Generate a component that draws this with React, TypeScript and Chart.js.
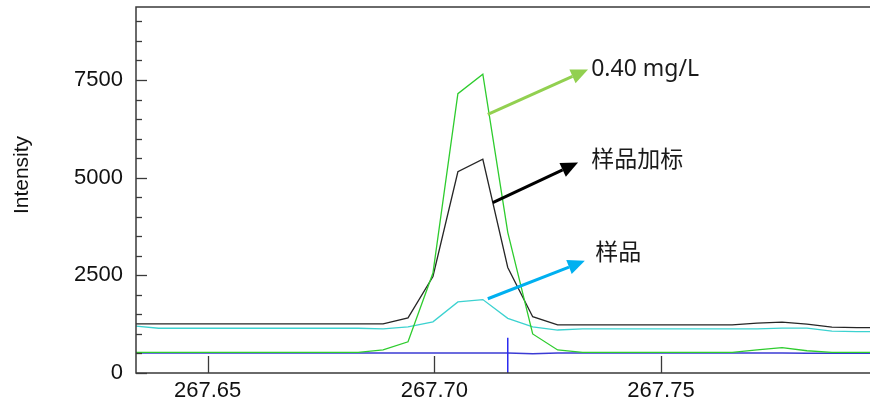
import React, { useEffect, useRef } from "react";
import { Chart, registerables } from "chart.js";

Chart.register(...registerables);

// Wavelength grid (nm)
const wavelengths = [
  267.6337, 267.6392, 267.6447, 267.6502, 267.6557, 267.6612, 267.6667, 267.6722,
  267.6777, 267.6832, 267.6887, 267.6942, 267.6997, 267.7052, 267.7107, 267.7162,
  267.7217, 267.7272, 267.7327, 267.7382, 267.7437, 267.7492, 267.7547, 267.7602,
  267.7657, 267.7712, 267.7767, 267.7822, 267.7877, 267.7932, 267.7987,
];

// 样品加标 (black)
const spiked = [
  1256, 1256, 1256, 1256, 1256, 1256, 1256, 1256, 1256, 1256, 1256,
  1410, 2470, 5150, 5470, 2700, 1440, 1230,
  1230, 1230, 1230, 1230, 1230, 1230, 1230,
  1275, 1300, 1250, 1175, 1160, 1160,
];

// 0.40 mg/L standard (green)
const standard = [
  530, 530, 530, 530, 530, 530, 530, 530, 530, 530,
  590, 800, 2560, 7150, 7650, 3600, 1000, 590,
  530, 530, 530, 530, 530, 530, 530,
  590, 650, 570, 530, 530, 530,
];

// 样品 (cyan)
const sample = [
  1205, 1145, 1145, 1145, 1145, 1145, 1145, 1145, 1145, 1145,
  1130, 1180, 1310, 1820, 1880, 1400, 1180, 1100,
  1130, 1130, 1130, 1130, 1130, 1130, 1130, 1130,
  1150, 1150, 1070, 1060, 1060,
];

// blank (blue)
const blank = [
  515, 515, 515, 515, 515, 515, 515, 515, 515, 515, 515, 515, 515, 515, 515, 515,
  490,
  515, 515, 515, 515, 515, 515, 515, 515, 515, 515,
  505, 505, 505, 505,
];

// peak position marker
const markerX = [267.7162, 267.7162];
const markerY = [0, 900];

const xTicks = [267.65, 267.7, 267.75];
const yMajorTicks = [0, 2500, 5000, 7500];
const yMinorTicks = [500, 1000, 1500, 2000, 3000, 3500, 4000, 4500, 5500, 6000, 6500, 7000, 8000, 8500, 9000];

const X_MIN = 267.6342;
const X_MAX = 267.7961;
const Y_MIN = 0;
const Y_MAX = 9368;

// annotations (data coordinates)
const arrowTailX = [267.7118, 267.7129, 267.7118];
const arrowTailY = [6620, 4360, 1900];
const arrowHeadX = [267.7339, 267.7317, 267.7332];
const arrowHeadY = [7770, 5385, 2870];
const arrowColors = ["#92d050", "#000000", "#00b0f0"];
const labelTexts = ["0.40 mg/L", "样品加标", "样品"];
const labelX = [267.7346, 267.7346, 267.7355];
const labelY = [7770, 5430, 3050];

const AXIS_FONT = "'Liberation Sans', Arial, sans-serif";
const NOTE_FONT = "'Noto Sans', 'Noto Sans CJK SC', sans-serif";

const pts = (xs: number[], ys: number[]) => xs.map((x, i) => ({ x, y: ys[i] }));

const decorPlugin = {
  id: "decor",
  afterDatasetsDraw(chart: any) {
    const { ctx, chartArea } = chart;
    const xs = chart.scales.x;
    const ys = chart.scales.y;
    const { left, right, top, bottom } = chartArea;
    ctx.save();
    // frame
    ctx.strokeStyle = "#3a3a3a";
    ctx.lineWidth = 1.5;
    ctx.beginPath();
    ctx.moveTo(right + 2, top);
    ctx.lineTo(left, top);
    ctx.lineTo(left, bottom);
    ctx.lineTo(right + 2, bottom);
    ctx.stroke();
    // y ticks
    ctx.lineWidth = 1.3;
    yMajorTicks.forEach((v) => {
      const y = Math.round(ys.getPixelForValue(v)) + 0.5;
      ctx.beginPath();
      ctx.moveTo(left, y);
      ctx.lineTo(left + 11, y);
      ctx.stroke();
    });
    yMinorTicks.forEach((v) => {
      const y = Math.round(ys.getPixelForValue(v)) + 0.5;
      ctx.beginPath();
      ctx.moveTo(left, y);
      ctx.lineTo(left + 6, y);
      ctx.stroke();
    });
    // x ticks
    xTicks.forEach((v) => {
      const x = Math.round(xs.getPixelForValue(v)) + 0.5;
      ctx.beginPath();
      ctx.moveTo(x, bottom);
      ctx.lineTo(x, bottom - 17);
      ctx.stroke();
    });
    // y title
    ctx.fillStyle = "#111";
    ctx.font = `21px ${AXIS_FONT}`;
    ctx.textAlign = "center";
    ctx.textBaseline = "middle";
    ctx.translate(left - 114, top + 168);
    ctx.rotate(-Math.PI / 2);
    ctx.fillText("Intensity", 0, 0);
    ctx.restore();

    // arrows
    ctx.save();
    arrowColors.forEach((c, i) => {
      const x1 = xs.getPixelForValue(arrowTailX[i]);
      const y1 = ys.getPixelForValue(arrowTailY[i]);
      const x2 = xs.getPixelForValue(arrowHeadX[i]);
      const y2 = ys.getPixelForValue(arrowHeadY[i]);
      const ang = Math.atan2(y2 - y1, x2 - x1);
      const hl = 17;
      const hw = 7.5;
      const bx = x2 - hl * Math.cos(ang);
      const by = y2 - hl * Math.sin(ang);
      ctx.strokeStyle = c;
      ctx.fillStyle = c;
      ctx.lineWidth = 3;
      ctx.beginPath();
      ctx.moveTo(x1, y1);
      ctx.lineTo(bx, by);
      ctx.stroke();
      ctx.beginPath();
      ctx.moveTo(x2, y2);
      ctx.lineTo(bx + hw * Math.sin(ang), by - hw * Math.cos(ang));
      ctx.lineTo(bx - hw * Math.sin(ang), by + hw * Math.cos(ang));
      ctx.closePath();
      ctx.fill();
    });
    ctx.fillStyle = "#1a1a1a";
    ctx.font = `23px ${NOTE_FONT}`;
    ctx.textAlign = "left";
    ctx.textBaseline = "middle";
    labelTexts.forEach((t, i) => {
      ctx.fillText(t, xs.getPixelForValue(labelX[i]), ys.getPixelForValue(labelY[i]));
    });
    ctx.restore();
  },
};

export default function App() {
  const ref = useRef<HTMLCanvasElement | null>(null);
  useEffect(() => {
    if (!ref.current) return;
    const line = (label: string, data: any[], color: string, order: number, width = 1.3) => ({
      label,
      data,
      borderColor: color,
      backgroundColor: color,
      borderWidth: width,
      pointRadius: 0,
      tension: 0,
      fill: false,
      order,
    });
    const chart = new Chart(ref.current, {
      type: "line",
      data: {
        datasets: [
          line("marker", pts(markerX, markerY), "#2b2bf0", 0, 1.5),
          line("0.40 mg/L", pts(wavelengths, standard), "#2ecc2e", 1),
          line("样品加标", pts(wavelengths, spiked), "#262626", 2),
          line("样品", pts(wavelengths, sample), "#3cd2d0", 3),
          line("blank", pts(wavelengths, blank), "#3b3bd4", 4, 1.5),
        ] as any,
      },
      options: {
        animation: false,
        responsive: true,
        maintainAspectRatio: false,
        layout: { padding: { top: 7, left: 0, right: 0, bottom: 0 } },
        plugins: { legend: { display: false }, tooltip: { enabled: false }, title: { display: false } },
        scales: {
          x: {
            type: "linear",
            min: X_MIN,
            max: X_MAX,
            grid: { display: false, drawTicks: false },
            border: { display: false },
            afterBuildTicks: (s: any) => {
              s.ticks = xTicks.map((v) => ({ value: v }));
            },
            afterFit: (s: any) => {
              s.height = 37;
              s.paddingLeft = 0;
              s.paddingRight = 0;
            },
            ticks: {
              autoSkip: false,
              maxRotation: 0,
              padding: 5,
              color: "#111",
              font: { family: AXIS_FONT, size: 22 },
              callback: (v: any) => Number(v).toFixed(2),
            },
          },
          y: {
            type: "linear",
            min: Y_MIN,
            max: Y_MAX,
            grid: { display: false, drawTicks: false },
            border: { display: false },
            afterBuildTicks: (s: any) => {
              s.ticks = yMajorTicks.map((v) => ({ value: v }));
            },
            afterFit: (s: any) => {
              s.width = 136;
              s.paddingTop = 0;
              s.paddingBottom = 0;
            },
            ticks: {
              padding: 13,
              color: "#111",
              font: { family: AXIS_FONT, size: 22 },
              callback: (v: any) => String(v),
            },
          },
        },
      },
      plugins: [decorPlugin],
    });
    return () => chart.destroy();
  }, []);
  return (
    <div style={{ position: "fixed", left: 0, top: 0, width: 870, height: 410, background: "#fff" }}>
      <canvas ref={ref} />
    </div>
  );
}
